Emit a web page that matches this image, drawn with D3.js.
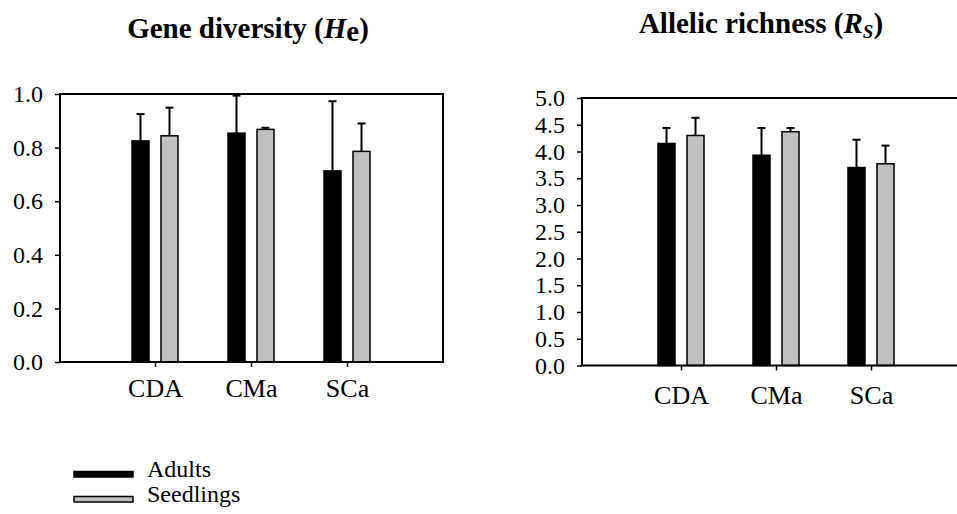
<!DOCTYPE html>
<html lang="en">
<head>
    <meta charset="UTF-8">
    <script src="https://cdn.jsdelivr.net/npm/d3@7/dist/d3.min.js"></script>
    <title>He and Rs</title>
<style>
    body, html{
        margin: 0;
        padding: 0;
        width: 100%;
        height: 100%;
        background: #fff;
    }
    svg text{
        font-family: "Liberation Serif", "Times New Roman", "DejaVu Serif", serif;
    }
</style>
</head>
<body>
<div id="chart"></div>
<script>

// data
const categories = ["CDA", "CMa", "SCa"]
const series = ["Adults", "Seedlings"]
const he_adults = [0.825, 0.854, 0.713]
const he_adults_err = [0.10, 0.14, 0.26]
const he_seedlings = [0.844, 0.868, 0.786]
const he_seedlings_err = [0.105, 0.006, 0.104]
const rs_adults = [4.15, 3.93, 3.70]
const rs_adults_err = [0.29, 0.51, 0.52]
const rs_seedlings = [4.30, 4.37, 3.77]
const rs_seedlings_err = [0.33, 0.07, 0.34]
const he_ticks = [0, 0.2, 0.4, 0.6, 0.8, 1.0]
const rs_ticks = [0, 0.5, 1.0, 1.5, 2.0, 2.5, 3.0, 3.5, 4.0, 4.5, 5.0]

const colors = { "Adults": "#000", "Seedlings": "#c0c0c0" }
const SERIF = '"Liberation Serif", "Times New Roman", "DejaVu Serif", serif'

const W = 957, H = 514
const svg = d3.select("#chart").append("svg").attr("width", W).attr("height", H)

// one bar panel
const drawPanel = (opt) => {
    const g = svg.append("g")
    const y = d3.scaleLinear().domain(opt.domain).range([opt.bottom, opt.top])
    const x = d3.scalePoint().domain(categories).range(opt.xRange)
    const xs = d3.scalePoint().domain(series).range([-14.5, 14.5])
    const bw = 17

    const rows = []
    categories.forEach((c, i) => {
        series.forEach((s, j) => {
            rows.push({ cat: c, s: s, v: opt.values[j][i], e: opt.errors[j][i] })
        })
    })

    // error bars (up only)
    const eb = g.append("g").selectAll("g").data(rows).enter().append("g")
    eb.append("line")
        .attr("x1", d => x(d.cat) + xs(d.s)).attr("x2", d => x(d.cat) + xs(d.s))
        .attr("y1", d => y(d.v)).attr("y2", d => y(d.v + d.e))
        .attr("stroke", "#000").attr("stroke-width", 2)
    eb.append("line")
        .attr("x1", d => x(d.cat) + xs(d.s) - 4).attr("x2", d => x(d.cat) + xs(d.s) + 4)
        .attr("y1", d => y(d.v + d.e)).attr("y2", d => y(d.v + d.e))
        .attr("stroke", "#000").attr("stroke-width", 2)

    g.append("g").selectAll("rect").data(rows).enter().append("rect")
        .attr("x", d => x(d.cat) + xs(d.s) - bw / 2)
        .attr("y", d => y(d.v))
        .attr("width", bw)
        .attr("height", d => y(0) - y(d.v))
        .attr("fill", d => colors[d.s])
        .attr("stroke", "#000").attr("stroke-width", 1.5)

    // frame
    g.append("rect")
        .attr("x", opt.boxX[0]).attr("y", opt.top)
        .attr("width", opt.boxX[1] - opt.boxX[0]).attr("height", opt.bottom - opt.top)
        .attr("fill", "none").attr("stroke", "#000").attr("stroke-width", 2)

    // y axis
    const ya = g.append("g").attr("transform", `translate(${opt.boxX[0]},0)`)
        .call(d3.axisLeft(y).tickValues(opt.ticks).tickFormat(d3.format(".1f")).tickSize(5).tickPadding(opt.yPad))
    ya.attr("font-family", null).attr("font-size", null)
    ya.select(".domain").remove()
    ya.selectAll("line").attr("stroke", "#000").attr("stroke-width", 1.5)
    ya.selectAll("text").style("font-size", "24px").style("font-family", SERIF).attr("fill", "#000")

    // x axis
    const xa = g.append("g").attr("transform", `translate(0,${opt.bottom})`)
        .call(d3.axisBottom(x).tickSize(5).tickPadding(opt.xPad))
    xa.attr("font-family", null).attr("font-size", null)
    xa.select(".domain").remove()
    xa.selectAll("line").attr("stroke", "#000").attr("stroke-width", 1.5)
    xa.selectAll("text").style("font-size", "26px").style("font-family", SERIF).attr("fill", "#000")
}

drawPanel({
    domain: [0, 1], ticks: he_ticks, top: 94, bottom: 362,
    boxX: [60, 443], xRange: [155, 347],
    values: [he_adults, he_seedlings], errors: [he_adults_err, he_seedlings_err],
    yPad: 12, xPad: 12
})

drawPanel({
    domain: [0, 5], ticks: rs_ticks, top: 98, bottom: 365.5,
    boxX: [582, 970], xRange: [681, 871],
    values: [rs_adults, rs_seedlings], errors: [rs_adults_err, rs_seedlings_err],
    yPad: 12, xPad: 15
})

// titles
const t1 = svg.append("text").attr("x", 248).attr("y", 38).attr("text-anchor", "middle")
    .style("font-size", "29px").style("font-weight", "bold").style("font-family", SERIF)
t1.append("tspan").text("Gene diversity (")
t1.append("tspan").attr("font-style", "italic").text("H")
t1.append("tspan").attr("dy", 3).text("e")
t1.append("tspan").attr("dy", -3).text(")")

const t2 = svg.append("text").attr("x", 761).attr("y", 33).attr("text-anchor", "middle")
    .style("font-size", "29px").style("font-weight", "bold").style("font-family", SERIF)
t2.append("tspan").text("Allelic richness (")
t2.append("tspan").attr("font-style", "italic").text("R")
t2.append("tspan").attr("font-style", "italic").style("font-size", "19px").attr("dy", 5).text("S")
t2.append("tspan").attr("dy", -5).text(")")

// legend
const lg = svg.append("g").selectAll("g").data(series).enter().append("g")
    .attr("transform", (d, i) => `translate(74,${471.5 + i * 25})`)
lg.append("rect").attr("width", 59).attr("height", 5.5)
    .attr("fill", d => colors[d]).attr("stroke", "#000").attr("stroke-width", 1.5)
lg.append("text").attr("x", 73).attr("y", 5).text(d => d)
    .style("font-size", "24px").style("font-family", SERIF).attr("fill", "#000")

</script>
</body>
</html>
